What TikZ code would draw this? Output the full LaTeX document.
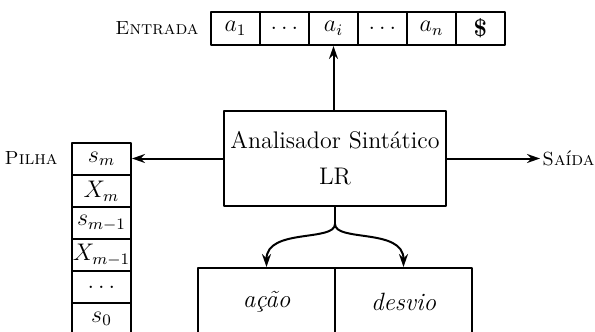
\documentclass[tikz,border=0pt]{standalone}
\usetikzlibrary{arrows.meta}
\begin{document}
\begin{tikzpicture}[x=0.5pt,y=-0.5pt,line cap=round,line join=round,
  cell/.style={draw,line width=1pt,minimum width=24.5pt,minimum height=16.5pt,inner sep=0pt,font=\large},
  slot/.style={draw,line width=1pt,minimum width=29.5pt,minimum height=16pt,inner sep=0pt,font=\large},
  table/.style={draw,line width=1pt,minimum width=68.5pt,minimum height=34pt,inner sep=0pt,font=\fontsize{12.5}{16}\selectfont\itshape},
  label/.style={inner sep=1pt,font=\fontsize{9.5}{11}\selectfont},
  conn/.style={line width=1pt,-{Stealth[length=6.5pt,width=4.5pt]}}]
  \useasboundingbox (0,0) rectangle (595,332);
  % entrada
  \foreach \lab [count=\i] in {$a_1$,$\dots$,$a_i$,$\dots$,$a_n$,\textbf{\$}}
    \node[cell] (t\i) at ({186.5+49*\i},28.5) {\lab};
  \node[label,anchor=east] (entrada) at (201,28.5) {\textsc{Entrada}};
  % analisador
  \node[draw,line width=1pt,minimum width=108pt,minimum height=47.5pt,align=center,
        font=\fontsize{12}{18}\selectfont] (lr) at (335,158.5) {Analisador Sint\'atico\\LR};
  % pilha
  \foreach \lab [count=\i] in {$s_m$,$X_m$,$s_{m-1}$,$X_{m-1}$,$\dots$,$s_0$}
    \node[slot] (p\i) at (101.5,{127+32*\i}) {\lab};
  \node[label,anchor=east] (pilha) at (60,158.5) {\textsc{Pilha}};
  % tabelas
  \node[table] (acao) at (266.5,302) {a\c{c}\~ao};
  \node[table] (desvio) at (403.5,302) {desvio};
  % saida
  \node[label,anchor=west] (saida) at (540,158.5) {\textsc{Sa\'ida}};
  % conexoes
  \draw[conn] (t3.south |- lr.north) -- (t3.south);
  \draw[conn] (lr.west) -- (lr.west -| p1.east);
  \draw[conn] (lr.east) -- (saida.west);
  \coordinate (fork) at (335,224);
  \draw[line width=1pt] (lr.south) -- (fork);
  \draw[conn] (fork) .. controls (335,242) and (266.5,228) .. (acao.north);
  \draw[conn] (fork) .. controls (335,242) and (403.5,228) .. (desvio.north);
\end{tikzpicture}
\end{document}
